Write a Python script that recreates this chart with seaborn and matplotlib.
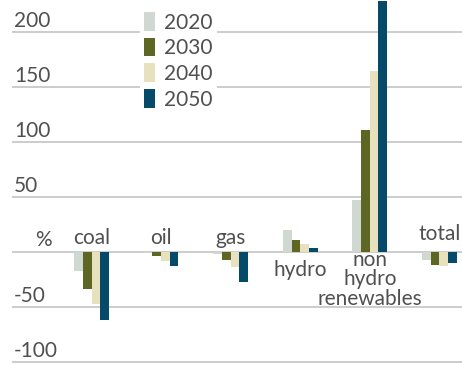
import matplotlib
matplotlib.use("Agg")
import matplotlib.pyplot as plt
import seaborn as sns
import pandas as pd

categories = ["coal", "oil", "gas", "hydro", "non hydro renewables", "total"]
cat_labels = ["coal", "oil", "gas", "hydro", "non\nhydro\nrenewables", "total"]
years = ["2020", "2030", "2040", "2050"]
v2020 = [-17, -1, -2, 20, 47, -7]
v2030 = [-34, -4, -7, 11, 111, -11.5]
v2040 = [-47, -8, -14, 7, 164.5, -12.5]
v2050 = [-61.5, -13, -27, 4, 228, -9.7]
yticks = [-100, -50, 0, 50, 100, 150, 200]
ytick_labels = ["-100", "-50", "%", "50", "100", "150", "200"]
colors = ["#cfd8d1", "#5e6623", "#e7e1be", "#064a6a"]

rows = []
for yr, vals in zip(years, [v2020, v2030, v2040, v2050]):
    for c, v in zip(categories, vals):
        rows.append({"category": c, "year": yr, "value": v})
df = pd.DataFrame(rows)

sns.set_theme(style="white")
plt.rcParams["font.family"] = ["Lato", "DejaVu Sans"]
txt = "#505050"
PT = 0.72  # points per pixel at 100 dpi

fig = plt.figure(figsize=(4.62, 3.65), dpi=100)
ax = fig.add_axes([12 / 462, 0, 450 / 462, 1])
sns.barplot(data=df, x="category", y="value", hue="year", order=categories,
            hue_order=years, palette=colors, errorbar=None, width=0.5,
            gap=0, linewidth=0, ax=ax, saturation=1)

ax.set_xlim(-1.143, 5.326)
ax.set_ylim(-102.7, 229.1)
for s in ax.spines.values():
    s.set_visible(False)
ax.set_xticks([])
ax.set_yticks(yticks)
ax.set_yticklabels([])
ax.tick_params(left=False, bottom=False)
ax.set_xlabel("")
ax.set_ylabel("")
ax.yaxis.grid(True, color="#c8c8c8", linewidth=1.3)
ax.set_axisbelow(True)

for v, lab in zip(yticks, ytick_labels):
    if lab == "%":
        ax.annotate(lab, xy=(0, v), xycoords=("axes fraction", "data"),
                    xytext=(17, 4.3), textcoords="offset points",
                    ha="left", va="baseline", fontsize=15, color=txt)
    else:
        ax.annotate(lab, xy=(0, v), xycoords=("axes fraction", "data"),
                    xytext=(1.5, 3.6), textcoords="offset points",
                    ha="left", va="baseline", fontsize=15, color=txt)

# baseline offsets (pixels from zero line) for labels
above_px = {0: 8, 1: 8, 2: 8, 5: 12}
below_px = {3: [24], 4: [14, 33, 53]}
for i, lab in enumerate(cat_labels):
    if i in above_px:
        ax.annotate(lab, xy=(i, 0), xycoords="data", xytext=(0, above_px[i] * PT),
                    textcoords="offset points", ha="center", va="baseline",
                    fontsize=15, color=txt)
    else:
        for line, off in zip(lab.split("\n"), below_px[i]):
            ax.annotate(line, xy=(i, 0), xycoords="data", xytext=(0, -off * PT),
                        textcoords="offset points", ha="center", va="baseline",
                        fontsize=15, color=txt)

handles, labels = ax.get_legend_handles_labels()
leg = ax.legend(handles, labels, loc="upper left",
                bbox_to_anchor=(140 / 462, 1 - 8 / 365), bbox_transform=fig.transFigure,
                frameon=True, facecolor="white", edgecolor="none", framealpha=1,
                fontsize=15, handlelength=0.53, handleheight=1.0,
                labelspacing=0.25, handletextpad=0.43, borderpad=0.2,
                borderaxespad=0, fancybox=False)
for t in leg.get_texts():
    t.set_color(txt)

fig.savefig("out.png", dpi=100)
